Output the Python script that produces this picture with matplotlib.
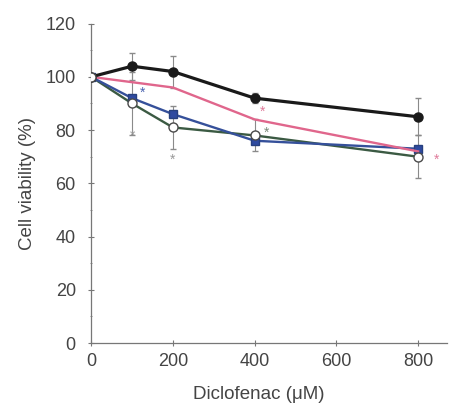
import matplotlib.pyplot as plt

plt.rcParams['font.family'] = ['Liberation Sans', 'DejaVu Sans']

# doses (uM)
dose = [0, 100, 200, 400, 800]

# cell viability (%) for each series
black_vals = [100, 104, 102, 92, 85]
pink_vals = [100, 98, 96, 84, 72]
blue_vals = [100, 92, 86, 76, 73]
green_vals = [100, 90, 81, 78, 70]

# error bars (shown on the outer series)
black_err = [0, 5, 6, 2, 7]
green_err = [0, 12, 8, 6, 8]

# asterisks: x, y, colour
star_x = [125, 100, 200, 420, 428, 845]
star_y = [94, 78, 69, 87, 79, 69]
star_c = ['#4a63b0', '#999999', '#999999', '#e07a9a', '#7a8a7a', '#e07a9a']

fig = plt.figure(figsize=(4.49, 4.07), dpi=100)
ax = fig.add_axes([0.203, 0.157, 0.792, 0.785])

ecol = '#8a8a8a'
ax.errorbar(dose, black_vals, yerr=black_err, fmt='none', ecolor=ecol,
            elinewidth=0.8, capsize=2, zorder=1)
ax.errorbar(dose, green_vals, yerr=green_err, fmt='none', ecolor=ecol,
            elinewidth=0.8, capsize=2, zorder=1)

ax.plot(dose, green_vals, '-', color='#3b5a43', lw=1.7, zorder=2)
ax.plot(dose, blue_vals, '-s', color='#35509a', lw=1.7, ms=6,
        mfc='#2f4aa0', mec='#27407f', zorder=3)
ax.plot(dose, pink_vals, '-', color='#e0668c', lw=1.7, zorder=3)
ax.plot(dose, black_vals, '-o', color='#1a1a1a', lw=2.3, ms=6.5, zorder=4)
ax.plot(dose, green_vals, 'o', mfc='white', mec='#4a4a4a', mew=1.0,
        ms=6.5, zorder=5)

for sx, sy, sc in zip(star_x, star_y, star_c):
    ax.text(sx, sy, '*', color=sc, fontsize=10, ha='center', va='center')

ax.set_xlim(0, 870)
ax.set_ylim(0, 120)
ax.set_xticks([0, 200, 400, 600, 800])
ax.set_yticks(range(0, 121, 20))
ax.set_yticks(range(0, 121, 10), minor=True)

for s in ['top', 'right']:
    ax.spines[s].set_visible(False)
for s in ['left', 'bottom']:
    ax.spines[s].set_color('#777777')
    ax.spines[s].set_linewidth(0.9)

ax.tick_params(which='both', direction='inout', color='#777777',
               labelcolor='#444444', labelsize=13)
ax.tick_params(which='major', length=4)
ax.tick_params(which='minor', length=2)
ax.tick_params(axis='y', pad=9)
ax.tick_params(axis='x', pad=5)

ax.set_xlabel('Diclofenac (\u03bcM)', fontsize=13.5, color='#444444', labelpad=9)
ax.xaxis.set_label_coords(0.47, -0.135)
ax.set_ylabel('Cell viability (%)', fontsize=13.5, color='#444444', labelpad=7)

fig.savefig('out.png', dpi=100)
